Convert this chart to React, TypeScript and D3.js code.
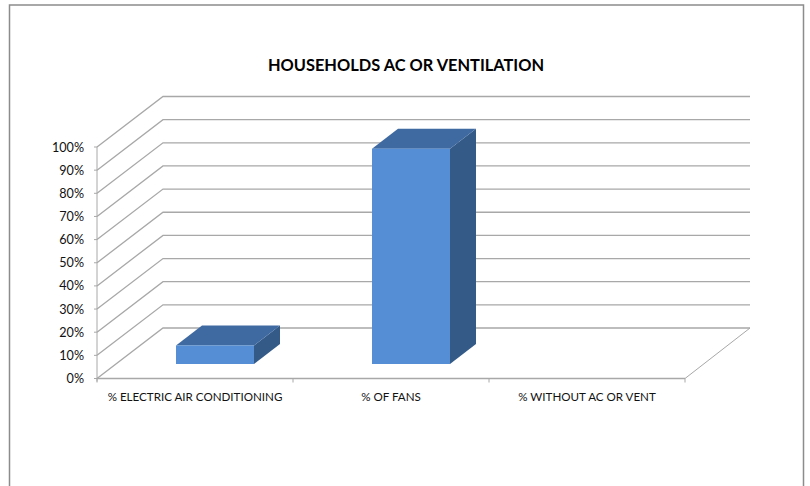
import React from "react";
import * as d3 from "d3";

const title = "HOUSEHOLDS AC OR VENTILATION";
const categories = ["% ELECTRIC AIR CONDITIONING", "% OF FANS", "% WITHOUT AC OR VENT"];
const values = [8, 93, 0];
const yTicks = [0, 10, 20, 30, 40, 50, 60, 70, 80, 90, 100];

const W = 810, H = 486;
const FONT = "Lato, Carlito, 'Open Sans', sans-serif";
const GRID = "#a8a8a8";

export default function App() {
  const x0 = 97, x1 = 685;
  const y = d3.scaleLinear().domain([0, 100]).range([378.5, 147]);
  const x = d3.scaleBand<string>().domain(categories).range([x0, x1]);
  const depthX = 66, depthY = -50.5;
  const barDX = 26, barDY = -20;
  const baseDX = 20, baseDY = -14.5;
  const barW = 78;
  const line = d3.line();

  return (
    <svg width={W} height={H} style={{ position: "fixed", left: 0, top: 0, background: "#fff" }}>
      <path d={`M9.5,486V5H803.5V486`} fill="none" stroke="#8c8c8c" strokeWidth={1.5} />
      <text x={406} y={70.5} textAnchor="middle" fontFamily={FONT} fontWeight={700} fontSize={16.4} fill="#000">{title}</text>

      {yTicks.map(t => (
        <g key={t}>
          <path
            d={line([[x0, y(t)], [x0 + depthX, y(t) + depthY], [750, y(t) + depthY]])!}
            fill="none"
            stroke={GRID}
            strokeWidth={1.3}
          />
          <line x1={x0 - 3} x2={x0} y1={y(t)} y2={y(t)} stroke={GRID} />
          <text x={x0 - 13} y={y(t) + 4.5} textAnchor="end" fontFamily={FONT} fontSize={12.6} fill="#111">{t}%</text>
        </g>
      ))}

      <line x1={x0} x2={x0} y1={y(100)} y2={y(0) + 3} stroke={GRID} strokeWidth={1} />
      <line x1={x0} x2={x1} y1={y(0)} y2={y(0)} stroke={GRID} strokeWidth={1.3} />
      <line x1={x1} x2={x1 + depthX - 1} y1={y(0)} y2={y(0) + depthY} stroke={GRID} strokeWidth={1} />
      {[...categories.map(c => x(c)!), x1].map((px, i) => (
        <line key={i} x1={px} x2={px} y1={y(0)} y2={y(0) + 4} stroke={GRID} />
      ))}

      {categories.map((c, i) => {
        const v = values[i];
        if (v === 0) return null;
        const left = x(c)! + (x.bandwidth() - barW) / 2 + baseDX;
        const right = left + barW;
        const bottom = y(0) + baseDY;
        const top = y(v) + baseDY;
        return (
          <g key={c}>
            <polygon
              points={[[right, top], [right + barDX, top + barDY], [right + barDX, bottom + barDY], [right, bottom]].join(" ")}
              fill="#345a88"
            />
            <polygon
              points={[[left, top], [left + barDX, top + barDY], [right + barDX, top + barDY], [right, top]].join(" ")}
              fill="#3f6aa1"
            />
            <rect x={left} y={top} width={barW} height={bottom - top} fill="#558ed5" />
          </g>
        );
      })}

      {categories.map(c => (
        <text key={c} x={x(c)! + x.bandwidth() / 2} y={401} textAnchor="middle" fontFamily={FONT} fontSize={11.6} fill="#111">{c}</text>
      ))}
    </svg>
  );
}
